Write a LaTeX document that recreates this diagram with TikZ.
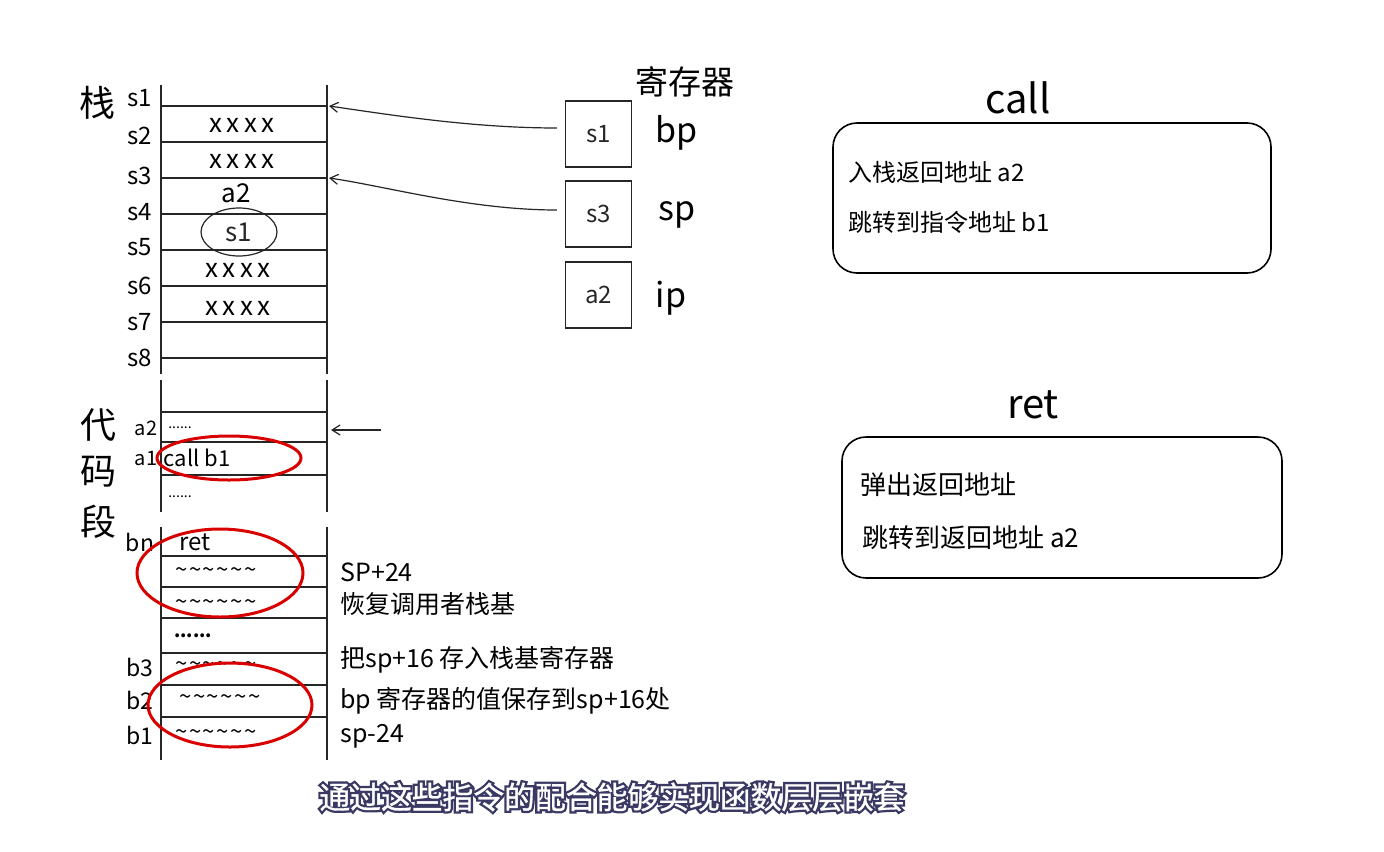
\documentclass[tikz,border=0pt]{standalone}
\usepackage{fontspec}
\setmainfont{Noto Sans CJK SC}
\newfontfamily\capback[FakeBold=16]{Noto Sans CJK SC}
\newfontfamily\capfront[FakeBold=1]{Noto Sans CJK SC}
\usetikzlibrary{arrows.meta,shapes.geometric}
\newcommand\fs[1]{\fontsize{#1}{#1}\selectfont}
\newcommand\xs{x\kern2.2pt x\kern2.2pt x\kern2.2pt x}
\newcommand\tl{\char"007E\relax}
\newcommand\tls{\tl\kern0.8pt\tl\kern0.8pt\tl\kern0.8pt\tl\kern0.8pt\tl\kern0.8pt\tl}
\newcommand\subtext{通过这些指令的配合能够实现函数层层嵌套}
\begin{document}
\begin{tikzpicture}[x=0.5pt,y=-0.5pt,
  rule/.style={line width=0.9pt,black!85},
  thin/.style={line width=0.6pt,black!85},
  lbl/.style={inner sep=0,font=\fs{12}},
  cell/.style={inner sep=0,font=\fs{13}},
  code/.style={inner sep=0,font=\fs{10}},
  note/.style={inner sep=0,anchor=west,font=\fs{12.5}},
  big/.style={inner sep=0,font=\fs{18}},
  reg/.style={draw,thin,minimum size=33pt,inner sep=0,font=\fs{12}},
  regname/.style={inner sep=0,font=\fs{17}},
  redring/.style={draw=red!85!black,line width=1.5pt},
  ptr/.style={thin,-{Straight Barb[length=4pt,width=5pt]}},
  opbox/.style={draw,line width=0.8pt,rounded corners=12pt,inner sep=0},
  optext/.style={inner sep=0,anchor=west,font=\fs{12}},
  optitle/.style={inner sep=0,font=\fs{20}},
  subsh/.style={inner sep=0,font=\capback\fs{15.4},text=black!70!blue!55!gray},
  subfg/.style={inner sep=0,font=\capfront\fs{15.4},text=white}]
\useasboundingbox[fill=white] (0,0) rectangle (1384,851);

% ---- stack ----
\node[big] (stk) at (97,103) {栈};
\draw[rule] (161,85) -- (161,374);
\draw[rule] (327,85) -- (327,374);
\foreach \y in {106,142,178,214,250,286,322,358}
  \draw[rule] (161,\y) -- (327,\y);
\foreach \t/\y in {s1/98,s2/136,s3/176,s4/212,s5/247,s6/286,s7/322,s8/358}
  \node[lbl] (l\t) at (140,\y) {\t};
\node[cell] (c1) at (242,125) {\xs};
\node[cell] (c2) at (242,161) {\xs};
\node[cell] (c3) at (236,193) {a2};
\node[cell,draw,thin,ellipse,minimum width=38pt,minimum height=24pt] (c4) at (239,232) {s1};
\node[cell] (c5) at (238,270) {\xs};
\node[cell] (c6) at (238,308) {\xs};
\coordinate (ps1) at (329,106);
\coordinate (ps3) at (329,178);

% ---- code segment ----
\node[big] (cd1) at (98,425) {代};
\node[big] (cd2) at (98,472) {码};
\node[big] (cd3) at (98,522) {段};
\draw[rule] (161,380) -- (161,512);
\draw[rule] (327,380) -- (327,512);
\foreach \y in {412,442,475}
  \draw[rule] (161,\y) -- (327,\y);
\node[code] (la2) at (146,428) {a2};
\node[code] (la1) at (146,458) {a1};
\node[code,font=\fs{7}] (d1) at (180,428) {......};
\node[code,font=\fs{11}] (call1) at (197,458) {call b1};
\node[code,font=\fs{7}] (d2) at (180,497) {......};
\coordinate (ipfrom) at (381,430);
\coordinate (ipto) at (331,430);
\draw[ptr] (ipfrom) -- (ipto);

\draw[rule] (161,527) -- (161,760);
\draw[rule] (327,527) -- (327,760);
\foreach \y in {556,587,618,653,685,717}
  \draw[rule] (161,\y) -- (327,\y);
\node[lbl,font=\fs{11.5}] (lbn) at (140,542) {bn};
\node[lbl,font=\fs{11.5}] (lb3) at (140,667) {b3};
\node[lbl,font=\fs{11.5}] (lb2) at (140,700) {b2};
\node[lbl,font=\fs{11.5}] (lb1) at (140,735) {b1};
\node[cell,font=\fs{12}] (r0) at (195,542) {ret};
\node[cell,font=\fs{11}] (r1) at (216,573) {\tls};
\node[cell,font=\fs{11}] (r2) at (216,605) {\tls};
\node[cell,font=\fs{9}] (r3) at (193,636) {\textbf{......}};
\node[cell,font=\fs{11}] (r4) at (216,667) {\tls};
\node[cell,font=\fs{11}] (r5) at (220,700) {\tls};
\node[cell,font=\fs{11}] (r6) at (216,735) {\tls};

\node[note] (n1) at (340,572) {SP+24};
\node[note] (n2) at (340,604) {恢复调用者栈基};
\node[note] (n3) at (340,660) {把sp+16 存入栈基寄存器};
\node[note] (n4) at (340,701) {bp 寄存器的值保存到sp+16处};
\node[note] (n5) at (340,736) {sp-24};

% red marks
\draw[redring] (229,458) ellipse [x radius=72, y radius=22];
\draw[redring] (220,573) ellipse [x radius=83, y radius=44];
\draw[redring] (230,705) ellipse [x radius=82, y radius=42];

% ---- registers ----
\node[inner sep=0,font=\fs{16.5}] (regt) at (685,82) {寄存器};
\node[reg] (rbp) at (598.5,134) {s1};
\node[reg] (rsp) at (598.5,214) {s3};
\node[reg] (rip) at (598.5,295) {a2};
\node[regname] (nbp) at (677,133) {bp};
\node[regname] (nsp) at (677,215) {sp};
\node[regname] (nip) at (671,298) {ip};
\draw[ptr] ([xshift=-4pt,yshift=3pt]rbp.west) .. controls (470,128) and (385,114) .. (ps1);
\draw[ptr] ([xshift=-4pt,yshift=2pt]rsp.west) .. controls (470,210) and (385,186) .. (ps3);

% ---- call / ret ----
\node[optitle] (tcall) at (1018,98) {call};
\node[opbox,minimum width=219pt,minimum height=75pt] (bcall) at (1052,198) {};
\node[optext] (k1) at (848,172) {入栈返回地址 a2};
\node[optext] (k2) at (848,222) {跳转到指令地址 b1};

\node[optitle] (tret) at (1033,405) {ret};
\node[opbox,minimum width=220pt,minimum height=70.5pt] (bret) at (1062,507.5) {};
\node[optext,font=\fs{13}] (k3) at (860,485) {弹出返回地址};
\node[optext,font=\fs{13}] (k4) at (862,538) {跳转到返回地址 a2};

% ---- caption: heavy dark layer under a white layer ----
\node[subsh] (capsh) at (612,797) {\subtext};
\node[subfg] (cap) at (612,797) {\subtext};
\end{tikzpicture}
\end{document}
